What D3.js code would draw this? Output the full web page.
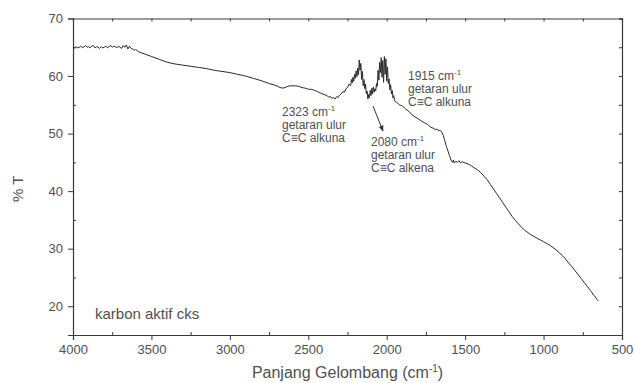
<!DOCTYPE html>
<html>
<head>
<meta charset="utf-8">
<script src="https://cdn.jsdelivr.net/npm/d3@7"></script>
<style>
  body { margin: 0; background: #fff; }
  text { font-family: "Liberation Sans", Arial, sans-serif; }
</style>
</head>
<body>
<svg class="container"></svg>
<script>
// wavenumber (cm-1) and %T
const wavenumber = [
  4000, 3990, 3980, 3970, 3960, 3950, 3940, 3930, 3920, 3910, 3900, 3890, 3880, 3870, 3860, 3850,
  3840, 3830, 3820, 3810, 3800, 3790, 3780, 3770, 3760, 3750, 3740, 3730, 3720, 3710, 3700, 3690,
  3680, 3670, 3660, 3650, 3640, 3630, 3620, 3610, 3600, 3580, 3560, 3540, 3500, 3450, 3400, 3350,
  3300, 3250, 3200, 3150, 3100, 3050, 3000, 2950, 2900, 2850, 2800, 2750, 2700, 2680, 2660, 2640,
  2620, 2600, 2580, 2560, 2540, 2520, 2500, 2480, 2460, 2440, 2420, 2400, 2380, 2370, 2360, 2350,
  2340, 2330, 2320, 2310, 2300, 2290, 2280, 2270, 2260, 2250, 2240, 2230, 2225, 2220, 2215, 2210,
  2205, 2200, 2195, 2190, 2185, 2180, 2175, 2170, 2165, 2160, 2155, 2150, 2145, 2140, 2135, 2130,
  2125, 2120, 2115, 2110, 2105, 2100, 2095, 2090, 2085, 2080, 2075, 2070, 2065, 2060, 2055, 2050,
  2045, 2040, 2035, 2030, 2025, 2020, 2015, 2010, 2005, 2000, 1995, 1990, 1985, 1980, 1975, 1970,
  1965, 1960, 1955, 1950, 1940, 1930, 1920, 1910, 1900, 1880, 1860, 1840, 1820, 1800, 1780, 1760,
  1740, 1720, 1700, 1690, 1680, 1670, 1660, 1650, 1640, 1630, 1620, 1610, 1600, 1590, 1580, 1575,
  1570, 1560, 1550, 1540, 1530, 1520, 1500, 1480, 1460, 1440, 1420, 1400, 1380, 1360, 1340, 1320,
  1300, 1280, 1260, 1240, 1220, 1200, 1180, 1160, 1140, 1120, 1100, 1080, 1060, 1040, 1020, 1000,
  980, 960, 940, 920, 900, 880, 860, 840, 820, 800, 780, 760, 740, 720, 700, 690,
  680, 670, 660, 650
];
const transmittance = [
  65.0, 64.9, 65.1, 64.9, 65.0, 65.2, 64.9, 65.1, 65.3, 65.0, 65.1, 64.9, 65.2, 65.3, 64.9, 65.1,
  65.0, 64.8, 65.1, 64.9, 65.0, 65.2, 64.9, 65.1, 65.3, 65.0, 65.2, 65.1, 64.9, 65.2, 65.0, 64.8,
  65.3, 65.0, 65.4, 64.7, 65.2, 64.8, 64.7, 64.5, 64.6, 64.2, 64.0, 63.8, 63.4, 62.9, 62.4, 62.1,
  61.9, 61.7, 61.5, 61.3, 61.0, 60.8, 60.6, 60.3, 60.0, 59.6, 59.2, 58.7, 58.3, 58.0, 57.9, 58.1,
  58.3, 58.3, 58.3, 58.2, 58.0, 57.9, 57.7, 57.7, 57.5, 57.3, 57.0, 56.8, 56.6, 56.3, 56.5, 56.1,
  56.3, 56.0, 56.4, 56.3, 56.7, 56.9, 57.3, 57.2, 57.8, 58.0, 58.6, 58.3, 59.4, 58.8, 59.8, 59.1,
  60.3, 59.6, 60.9, 59.9, 61.4, 60.2, 62.8, 61.0, 62.2, 59.4, 60.8, 58.3, 59.4, 57.8, 58.6, 56.9,
  57.4, 56.0, 56.8, 56.2, 57.5, 56.6, 57.9, 56.9, 58.1, 57.2, 57.8, 57.4, 58.7, 58.2, 61.0, 59.3,
  62.4, 60.6, 63.2, 59.8, 62.7, 58.9, 63.4, 60.3, 63.0, 59.1, 61.6, 58.7, 59.5, 57.6, 58.5, 56.9,
  57.5, 56.2, 56.6, 55.7, 55.5, 55.3, 55.0, 54.9, 54.8, 54.3, 53.9, 53.3, 52.9, 52.6, 52.2, 51.9,
  51.6, 51.1, 50.9, 50.7, 50.8, 50.5, 50.6, 50.3, 49.7, 48.8, 47.8, 47.0, 46.2, 45.4, 45.0, 45.4,
  44.9, 45.2, 45.0, 45.3, 44.9, 45.1, 44.9, 44.7, 44.4, 44.0, 43.7, 43.2, 42.6, 42.0, 41.2, 40.4,
  39.6, 38.8, 38.0, 37.2, 36.4, 35.6, 34.9, 34.3, 33.7, 33.2, 32.8, 32.4, 32.1, 31.8, 31.5, 31.2,
  30.9, 30.6, 30.2, 29.8, 29.3, 28.8, 28.2, 27.5, 26.9, 26.2, 25.5, 24.8, 24.1, 23.4, 22.7, 22.3,
  21.9, 21.6, 21.2, 20.9
];

const xTicks = [4000, 3500, 3000, 2500, 2000, 1500, 1000, 500];
const xMinor = [3750, 3250, 2750, 2250, 1750, 1250, 750];
const yTicks = [20, 30, 40, 50, 60, 70];
const yMinor = [25, 35, 45, 55, 65];

const width = 634;
const height = 383;
const margin = { left: 73, right: 12, top: 18, bottom: 48 };
const ink = "#3a3a3a";
const labelColor = "#505050";

const svg = d3.select(".container").attr("width", width).attr("height", height);

const xScale = d3.scaleLinear().domain([4000, 500]).range([margin.left, width - margin.right]);
const yScale = d3.scaleLinear().domain([15, 70]).range([height - margin.bottom, margin.top + 0.5]);

const x0 = margin.left, x1 = width - margin.right;
const y0 = height - margin.bottom, y1 = yScale(70);

// axes
const styleAxis = (g) => {
  g.select(".domain").attr("stroke", ink).attr("stroke-width", 1.2);
  g.selectAll(".tick line").attr("stroke", ink);
  g.selectAll(".tick text").attr("fill", labelColor).style("font-size", "13px")
    .style("font-family", "Liberation Sans, Arial, sans-serif");
};

svg.append("g").attr("transform", `translate(0, ${y0})`)
  .call(d3.axisBottom(xScale).tickValues(xTicks).tickSize(5).tickPadding(5).tickFormat(d3.format("d")))
  .call(styleAxis);
svg.append("g").attr("transform", `translate(0, ${y0})`)
  .call(d3.axisTop(xScale).tickValues(xMinor).tickSize(3).tickFormat(""))
  .call((g) => { g.select(".domain").remove(); g.selectAll("line").attr("stroke", ink); });

svg.append("g").attr("transform", `translate(${x0}, 0)`)
  .call(d3.axisLeft(yScale).tickValues(yTicks).tickSize(5).tickPadding(5))
  .call(styleAxis);
svg.append("g").attr("transform", `translate(${x0}, 0)`)
  .call(d3.axisRight(yScale).tickValues(yMinor).tickSize(3).tickFormat(""))
  .call((g) => { g.select(".domain").remove(); g.selectAll("line").attr("stroke", ink); });

// frame: top and right with inward ticks
svg.append("g").attr("transform", `translate(0, ${y1})`)
  .call(d3.axisBottom(xScale).tickValues(xTicks.concat(xMinor)).tickSize(3).tickFormat(""))
  .call((g) => { g.select(".domain").attr("stroke", ink).attr("stroke-width", 1.2); g.selectAll("line").attr("stroke", ink); });
svg.append("g").attr("transform", `translate(${x1}, 0)`)
  .call(d3.axisLeft(yScale).tickValues(yTicks.concat(yMinor)).tickSize(3).tickFormat(""))
  .call((g) => { g.select(".domain").attr("stroke", ink).attr("stroke-width", 1.2); g.selectAll("line").attr("stroke", ink); });

// spectrum
const line = d3.line()
  .x((d, i) => xScale(wavenumber[i]))
  .y((d) => yScale(d));

svg.append("path")
  .datum(transmittance)
  .attr("d", line)
  .attr("fill", "none")
  .attr("stroke", "#2b2b2b")
  .attr("stroke-width", 1)
  .attr("stroke-linejoin", "round");

// axis titles
const xt = svg.append("text")
  .attr("x", (x0 + x1) / 2).attr("y", 378)
  .attr("text-anchor", "middle").attr("fill", labelColor).style("font-size", "16px");
xt.append("tspan").text("Panjang Gelombang (cm");
xt.append("tspan").attr("dy", -6).style("font-size", "10px").text("-1");
xt.append("tspan").attr("dy", 6).text(")");

svg.append("text")
  .attr("transform", `translate(23, ${(y0 + y1) / 2 + 12}) rotate(-90)`)
  .attr("text-anchor", "middle").attr("fill", labelColor).style("font-size", "15px")
  .text("% T");

// annotations
const notes = [
  { x: 408, y: 80, lines: ["1915", "getaran ulur", "C\u2261C alkuna"] },
  { x: 282, y: 116, lines: ["2323", "getaran ulur", "C\u2261C alkuna"] },
  { x: 371, y: 146, lines: ["2080", "getaran ulur", "C\u2261C alkena"] }
];
notes.forEach((n) => {
  n.lines.forEach((l, i) => {
    const t = svg.append("text")
      .attr("x", n.x).attr("y", n.y + i * 13.2)
      .attr("fill", labelColor).style("font-size", "12px");
    if (i === 0) {
      t.append("tspan").text(l + " cm");
      t.append("tspan").attr("dy", -5).style("font-size", "8px").text("-1");
    } else {
      t.text(l);
    }
  });
});

svg.append("defs").append("marker")
  .attr("id", "arrow").attr("viewBox", "0 0 10 10")
  .attr("refX", 9).attr("refY", 5)
  .attr("markerWidth", 6).attr("markerHeight", 6)
  .attr("orient", "auto")
  .append("path").attr("d", "M0,1 L10,5 L0,9 Z").attr("fill", "#333");

svg.append("line")
  .attr("x1", 373).attr("y1", 106).attr("x2", 383).attr("y2", 131)
  .attr("stroke", "#333").attr("stroke-width", 1)
  .attr("marker-end", "url(#arrow)");

svg.append("text")
  .attr("x", 95).attr("y", 319)
  .attr("fill", labelColor).style("font-size", "15px")
  .text("karbon aktif cks");
</script>
</body>
</html>
